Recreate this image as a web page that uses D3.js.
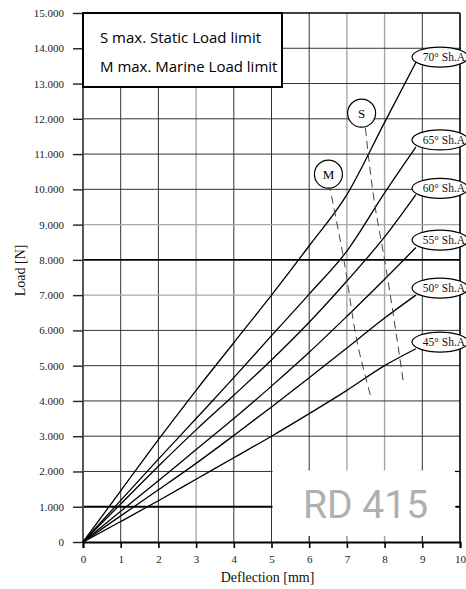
<!DOCTYPE html>
<html>
<head>
<meta charset="utf-8">
<title>RD 415 load / deflection</title>
<style>
  html, body { margin: 0; padding: 0; background: #fff; }
  svg { display: block; }
  .serif { font-family: "Liberation Serif", "DejaVu Serif", serif; }
</style>
</head>
<body>
<svg width="466" height="589"></svg>

<script src="https://cdnjs.cloudflare.com/ajax/libs/d3/7.8.5/d3.min.js"></script>
<script>
// ---- data ----
const xTicks = [0, 1, 2, 3, 4, 5, 6, 7, 8, 9, 10];
const yTicks = [0, 1000, 2000, 3000, 4000, 5000, 6000, 7000, 8000, 9000, 10000, 11000, 12000, 13000, 14000, 15000];
const yTickLabels = ["0", "1.000", "2.000", "3.000", "4.000", "5.000", "6.000", "7.000",
                     "8.000", "9.000", "10.000", "11.000", "12.000", "13.000", "14.000", "15.000"];

// deflection [mm] shared by all curves
const deflection = [0, 1, 2, 3, 4, 5, 6, 7, 8, 8.83];
const load70 = [0, 1450, 2900, 4300, 5650, 7000, 8400, 9850, 11900, 13600];
const load65 = [0, 1180, 2350, 3500, 4660, 5850, 7030, 8250, 9900, 11200];
const load60 = [0, 1080, 2150, 3180, 4160, 5160, 6230, 7400, 8650, 9850];
const load55 = [0, 870, 1740, 2620, 3500, 4420, 5380, 6400, 7450, 8350];
const load50 = [0, 740, 1480, 2230, 3020, 3830, 4660, 5500, 6350, 7000];
const load45 = [0, 580, 1170, 1780, 2390, 3000, 3640, 4300, 5000, 5480];

const hardness = ["70° Sh.A", "65° Sh.A", "60° Sh.A", "55° Sh.A", "50° Sh.A", "45° Sh.A"];
const labelLoads = [13750, 11400, 10030, 8560, 7200, 5670];

// dashed limit lines
const mDefl = [6.55, 6.92, 7.3, 7.62];
const mLoad = [10040, 8000, 5530, 4170];
const sDefl = [7.48, 7.75, 8.0, 8.36, 8.49];
const sLoad = [11850, 9500, 8000, 5530, 4590];
const markerNames = ["M", "S"];
const markerDefl = [6.51, 7.39];
const markerLoad = [10430, 12160];

const legendLines = ["S max. Static Load limit", "M max. Marine Load limit"];

// ---- layout ----
const margin = {top: 13, left: 83, right: 6, bottom: 47};
const width = 466, height = 589;

const svg = d3.select("svg");

const x = d3.scaleLinear().domain([0, 10]).range([margin.left, width - margin.right]);
const y = d3.scaleLinear().domain([0, 15000]).range([height - margin.bottom, margin.top]);

// grid
const lightX = [3, 7, 8];
const lightY = [7000, 9000];
const heavyY = [1000, 8000];

svg.append("g").selectAll("line")
    .data(xTicks.filter(d => d > 0 && d < 10))
    .enter().append("line")
    .attr("x1", d => x(d)).attr("x2", d => x(d))
    .attr("y1", y(0)).attr("y2", y(15000))
    .attr("stroke", d => lightX.includes(d) ? "#a8a8a8" : "#333")
    .attr("stroke-width", d => lightX.includes(d) ? 1.4 : 1);

svg.append("g").selectAll("line")
    .data(yTicks.filter(d => d > 0 && d < 15000))
    .enter().append("line")
    .attr("x1", x(0)).attr("x2", x(10))
    .attr("y1", d => y(d)).attr("y2", d => y(d))
    .attr("stroke", d => heavyY.includes(d) ? "#000" : lightY.includes(d) ? "#a8a8a8" : "#333")
    .attr("stroke-width", d => heavyY.includes(d) ? 1.8 : lightY.includes(d) ? 1.4 : 1);

// white patch behind the type mark
svg.append("rect")
    .attr("x", x(5) + 1)
    .attr("y", y(2000) - 1)
    .attr("width", x(10) - x(5) - 5)
    .attr("height", y(0) - y(2000) - 5)
    .attr("fill", "#fff");

// inner ticks on bottom and right
svg.append("g").selectAll("line")
    .data(xTicks.filter(d => d > 5 && d < 10))
    .enter().append("line")
    .attr("x1", d => x(d)).attr("x2", d => x(d))
    .attr("y1", y(0)).attr("y2", y(0) - 6)
    .attr("stroke", d => lightX.includes(d) ? "#a8a8a8" : "#333")
    .attr("stroke-width", d => lightX.includes(d) ? 1.4 : 1);

svg.append("g").selectAll("line")
    .data([1000, 2000])
    .enter().append("line")
    .attr("x1", x(10) - 5).attr("x2", x(10))
    .attr("y1", d => y(d)).attr("y2", d => y(d))
    .attr("stroke", "#000").attr("stroke-width", 1.2);

// frame
svg.append("line").attr("x1", x(0)).attr("x2", x(10)).attr("y1", y(15000)).attr("y2", y(15000))
    .attr("stroke", "#000").attr("stroke-width", 1.6);
svg.append("line").attr("x1", x(10)).attr("x2", x(10)).attr("y1", y(15000)).attr("y2", y(0))
    .attr("stroke", "#000").attr("stroke-width", 1.6);
svg.append("line").attr("x1", x(0)).attr("x2", x(0)).attr("y1", y(15000)).attr("y2", y(0))
    .attr("stroke", "#555").attr("stroke-width", 2);

// axes
const yAxis = d3.axisLeft(y)
    .tickValues(yTicks)
    .tickFormat((d, i) => yTickLabels[i])
    .tickSize(10)
    .tickPadding(9);
const gy = svg.append("g")
    .attr("transform", "translate(" + [x(0), 0] + ")")
    .call(yAxis);
gy.select(".domain").remove();
gy.selectAll("line").attr("stroke", "#222").attr("stroke-width", 1.4);
gy.selectAll("text").attr("class", "serif").attr("font-size", 11).attr("fill", "#222");

const xAxis = d3.axisBottom(x)
    .tickValues(xTicks)
    .tickFormat(d3.format("d"))
    .tickSize(6)
    .tickPadding(7);
const gx = svg.append("g")
    .attr("transform", "translate(" + [0, y(0)] + ")")
    .call(xAxis);
gx.select(".domain").attr("stroke", "#000").attr("stroke-width", 2);
gx.selectAll("line").attr("stroke", "#000").attr("stroke-width", 1.6);
gx.selectAll("text").attr("class", "serif").attr("font-size", 11).attr("fill", "#222");

svg.append("text")
    .attr("class", "serif")
    .attr("x", x(5) - 4)
    .attr("y", 582)
    .attr("text-anchor", "middle")
    .attr("font-size", 14)
    .attr("fill", "#111")
    .text("Deflection [mm]");

svg.append("text")
    .attr("class", "serif")
    .attr("transform", "translate(25," + y(7700) + ") rotate(-90)")
    .attr("text-anchor", "middle")
    .attr("font-size", 14)
    .attr("fill", "#111")
    .text("Load [N]");

// type mark
svg.append("text")
    .attr("x", 303)
    .attr("y", 518)
    .attr("font-family", "Roboto, sans-serif")
    .attr("font-size", 39)
    .attr("fill", "#b0b0b0")
    .text("RD 415");

// curves
const series = [load70, load65, load60, load55, load50, load45];
const line = d3.line()
    .x((d, i) => x(deflection[i]))
    .y(d => y(d))
    .curve(d3.curveMonotoneX);

svg.append("g").selectAll("path")
    .data(series)
    .enter().append("path")
    .attr("d", d => line(d))
    .attr("fill", "none")
    .attr("stroke", "#000")
    .attr("stroke-width", 1.3);

// dashed limit lines
const limits = [
    mDefl.map((d, i) => [d, mLoad[i]]),
    sDefl.map((d, i) => [d, sLoad[i]])
];
const dash = d3.line().x(d => x(d[0])).y(d => y(d[1])).curve(d3.curveMonotoneY);
svg.append("g").selectAll("path")
    .data(limits)
    .enter().append("path")
    .attr("d", d => dash(d.slice().sort((a, b) => a[1] - b[1])))
    .attr("fill", "none")
    .attr("stroke", "#444")
    .attr("stroke-width", 1)
    .attr("stroke-dasharray", "8,5");

const markers = svg.append("g").selectAll("g")
    .data(markerNames)
    .enter().append("g")
    .attr("transform", (d, i) => "translate(" + [x(markerDefl[i]), y(markerLoad[i])] + ")");
markers.append("circle")
    .attr("r", 14)
    .attr("fill", "#fff")
    .attr("stroke", "#000")
    .attr("stroke-width", 1.2);
markers.append("text")
    .attr("class", "serif")
    .attr("text-anchor", "middle")
    .attr("dy", "0.35em")
    .attr("font-size", 13)
    .text(d => d);

// hardness labels
const labels = svg.append("g").selectAll("g")
    .data(hardness)
    .enter().append("g")
    .attr("transform", (d, i) => "translate(" + [x(9.47), y(labelLoads[i])] + ")");
labels.append("ellipse")
    .attr("rx", 28)
    .attr("ry", 10)
    .attr("fill", "#fff")
    .attr("stroke", "#000")
    .attr("stroke-width", 1.2);
labels.append("text")
    .attr("class", "serif")
    .attr("x", 4)
    .attr("text-anchor", "middle")
    .attr("dy", "0.35em")
    .attr("font-size", 11.5)
    .attr("fill", "#111")
    .text(d => d);

// legend box
svg.append("rect")
    .attr("x", x(0))
    .attr("y", y(15000))
    .attr("width", 199)
    .attr("height", 74)
    .attr("fill", "#fff")
    .attr("stroke", "#000")
    .attr("stroke-width", 2);
svg.append("g").selectAll("text")
    .data(legendLines)
    .enter().append("text")
    .attr("x", 100)
    .attr("y", (d, i) => 43 + i * 29)
    .attr("font-family", "'Open Sans', sans-serif")
    .attr("font-size", 15)
    .attr("fill", "#000")
    .text(d => d);
</script>
</body>
</html>
